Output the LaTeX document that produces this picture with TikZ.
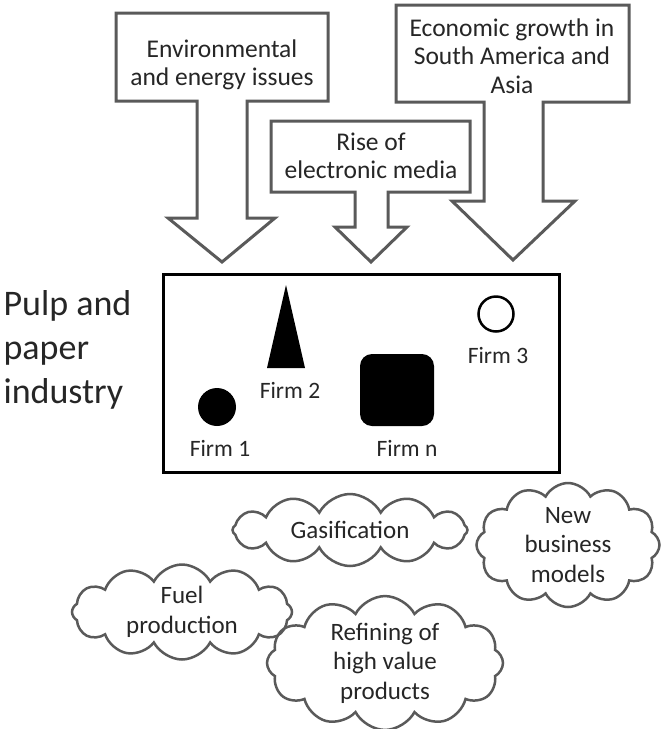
\documentclass[tikz,border=0pt]{standalone}
\usepackage{fontspec}
\setmainfont{Carlito}
\usetikzlibrary{shapes.symbols}
\definecolor{outlinegray}{RGB}{90,90,90}
\definecolor{textgray}{RGB}{38,38,38}
\begin{document}
\begin{tikzpicture}[x=1pt, y=-1pt,
    callout/.style={draw=outlinegray, line width=3pt, fill=white},
    box text/.style={align=center, text=textgray, font=\fontsize{25.5}{28.5}\selectfont},
    firm label/.style={text=textgray, font=\fontsize{23.5}{25}\selectfont},
    idea cloud/.style={cloud, cloud puffs=12, cloud puff arc=125, cloud ignores aspect, draw=outlinegray,
      line width=2.5pt, align=center, text=textgray, inner sep=0pt,
      font=\fontsize{25}{29.5}\selectfont}]
        \useasboundingbox (0,0) rectangle (665,729);

          % forces acting on the industry
          \draw[callout] (116,13) -- (328,13) -- (328,101) -- (247,101) -- (247,218) -- (275,218)
            -- (222,262) -- (168,218) -- (197,218) -- (197,101) -- (116,101) -- cycle;
          \draw[callout] (396,5) -- (629,5) -- (629,102) -- (543,102) -- (543,201) -- (575,201)
            -- (513,260) -- (452,201) -- (484,201) -- (484,102) -- (396,102) -- cycle;
          \draw[callout] (271,121) -- (470,121) -- (470,192) -- (388,192) -- (388,227) -- (407,227)
            -- (371,262) -- (335,227) -- (355,227) -- (355,192) -- (271,192) -- cycle;
          \node[box text] (env) at (222,65) {Environmental\\and energy issues};
          \node[box text] (econ) at (512,56) {Economic growth in\\South America and\\Asia};
          \node[box text] (media) at (371,156) {Rise of\\electronic media};

          % industry and firms
          \node[draw, line width=3pt, minimum width=396pt, minimum height=198pt, inner sep=0pt] (industry) at (361,373) {};
          \node[anchor=west, align=left, text=textgray, font=\fontsize{36}{44}\selectfont] (pulp) at (0,350) {Pulp and\\paper\\industry};
          \node[circle, fill, minimum size=38pt, inner sep=0pt] (firm1) at (217,407) {};
          \fill (286,285) -- (305,368) -- (267,368) -- cycle;
          \node[fill, rounded corners=12pt, minimum width=74pt, minimum height=72pt, inner sep=0pt] (firmn) at (397,390) {};
          \node[circle, draw, line width=2.5pt, minimum size=35pt, inner sep=0pt] (firm3) at (496,314) {};
          \node[firm label] (l1) at (220,448) {Firm 1};
          \node[firm label] (l2) at (290,390) {Firm 2};
          \node[firm label] (ln) at (407,448) {Firm n};
          \node[firm label] (l3) at (498,355) {Firm 3};

          % possible new directions
          \node[idea cloud, minimum width=235pt, minimum height=72pt] (gas) at (350,530) {Gasification};
          \node[idea cloud, minimum width=183pt, minimum height=124pt] (newbiz) at (568,545) {New\\business\\models};
          \node[idea cloud, minimum width=220pt, minimum height=95pt] (fuel) at (182,612) {Fuel\\production};
          \node[idea cloud, minimum width=236pt, minimum height=130pt] (refine) at (385,663) {Refining of\\high value\\products};

        \end{tikzpicture}
\end{document}
